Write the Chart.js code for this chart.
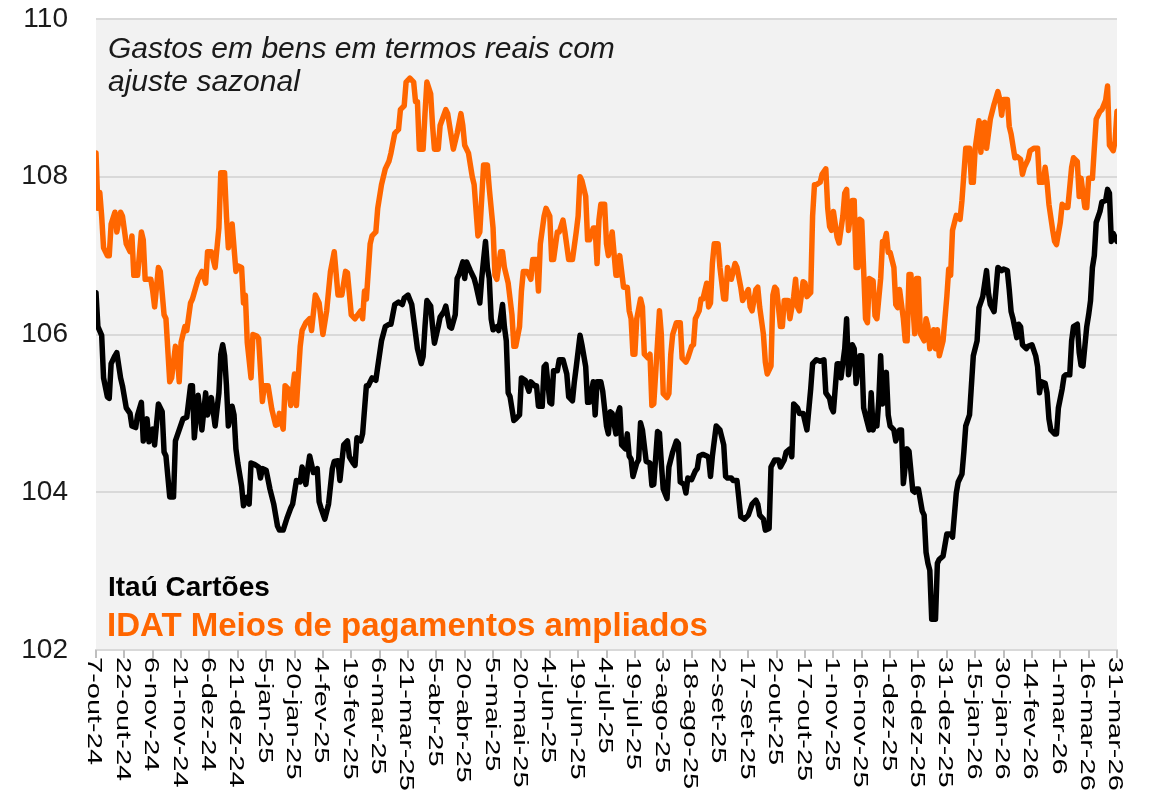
<!DOCTYPE html>
<html>
<head>
<meta charset="utf-8">
<script src="https://cdn.jsdelivr.net/npm/chart.js@4.4.1/dist/chart.umd.min.js"></script>
<style>
  html, body { margin: 0; padding: 0; background: #ffffff; }
  #wrap { width: 1153px; height: 806px; }
</style>
</head>
<body>
<div id="wrap"><canvas id="gastosChart" width="1153" height="806"></canvas></div>
<script>
  // eixo x: dias desde 7-out-24, rótulos a cada 15 dias
  const tickLabels = [
    "7-out-24", "22-out-24", "6-nov-24", "21-nov-24", "6-dez-24", "21-dez-24",
    "5-jan-25", "20-jan-25", "4-fev-25", "19-fev-25", "6-mar-25", "21-mar-25",
    "5-abr-25", "20-abr-25", "5-mai-25", "20-mai-25", "4-jun-25", "19-jun-25",
    "4-jul-25", "19-jul-25", "3-ago-25", "18-ago-25", "2-set-25", "17-set-25",
    "2-out-25", "17-out-25", "1-nov-25", "16-nov-25", "1-dez-25", "16-dez-25",
    "31-dez-25", "15-jan-26", "30-jan-26", "14-fev-26", "1-mar-26", "16-mar-26",
    "31-mar-26"
  ];
  const tickStep = 15;

  // IDAT Meios de pagamentos ampliados
  const idatDays = [
    0, 1, 2, 3, 4, 6, 7, 8, 10, 11, 13, 14, 16, 18, 19, 20, 22, 24, 25, 26,
    29, 30, 31, 33, 34, 36, 37, 39, 40, 42, 43, 44, 45, 47, 48, 50, 51, 54, 56, 58,
    59, 61, 63, 65, 66, 68, 69, 70, 72, 74, 75, 77, 78, 79, 80, 82, 83, 85, 86, 88,
    89, 91, 93, 95, 96, 97, 99, 100, 102, 103, 105, 106, 108, 109, 111, 113, 114, 116, 118, 120,
    122, 124, 126, 128, 130, 132, 133, 135, 137, 140, 141, 142, 143, 145, 146, 148, 149, 151, 153, 155,
    156, 158, 160, 161, 163, 164, 166, 168, 169, 170, 171, 173, 174, 175, 177, 178, 179, 181, 182, 185,
    186, 188, 189, 191, 193, 194, 195, 197, 199, 200, 202, 203, 205, 207, 208, 210, 211, 212, 214, 215,
    216, 218, 220, 221, 222, 224, 225, 226, 228, 230, 231, 233, 234, 235, 237, 238, 240, 241, 242, 244,
    245, 247, 248, 250, 252, 254, 255, 256, 257, 259, 260, 261, 263, 264, 265, 266, 267, 269, 270, 271,
    273, 275, 276, 277, 279, 281, 282, 283, 284, 285, 286, 288, 289, 290, 292, 293, 294, 295, 297, 298,
    299, 300, 302, 303, 304, 305, 307, 309, 310, 312, 313, 315, 316, 317, 319, 320, 321, 323, 324, 325,
    326, 327, 329, 330, 332, 333, 334, 336, 338, 339, 341, 342, 345, 346, 347, 349, 350, 351, 353, 354,
    355, 357, 358, 359, 360, 362, 363, 364, 366, 367, 369, 370, 371, 372, 374, 375, 376, 378, 379, 380,
    381, 383, 384, 386, 387, 388, 389, 390, 392, 393, 395, 396, 397, 398, 400, 401, 402, 403, 404, 405,
    407, 408, 409, 411, 412, 413, 415, 416, 417, 418, 419, 420, 422, 423, 424, 425, 427, 428, 429, 430,
    431, 433, 434, 435, 436, 438, 439, 440, 441, 443, 444, 445, 446, 448, 449, 450, 451, 452, 453, 455,
    457, 458, 460, 462, 463, 464, 465, 467, 468, 469, 470, 471, 473, 475, 477, 478, 479, 480, 482, 483,
    484, 486, 487, 489, 490, 491, 493, 494, 496, 498, 499, 501, 502, 503, 504, 506, 507, 508, 510, 511,
    513, 514, 516, 517, 519, 520, 521, 523, 524, 525, 527, 528, 529, 531, 532, 534, 535, 536, 538, 539,
    540
  ];
  const idatValues = [
    108.3, 107.6, 107.8, 107.5, 107.1, 107.0, 107.0, 107.4, 107.55, 107.3, 107.55, 107.5, 107.15, 107.05, 107.25, 106.75, 106.75, 107.3, 107.2, 106.7,
    106.7, 106.55, 106.35, 106.85, 106.8, 106.25, 106.2, 105.4, 105.45, 105.85, 105.75, 105.4, 105.9, 106.1, 106.05, 106.4, 106.45, 106.7, 106.8, 106.65,
    107.05, 107.05, 106.85, 107.35, 108.05, 108.05, 107.5, 107.1, 107.4, 106.8, 106.87, 106.85, 106.4, 106.5, 105.9, 105.45, 106.0, 105.98, 105.95, 105.15,
    105.35, 105.35, 105.05, 104.85, 104.86, 105.0, 104.8, 105.35, 105.3, 105.1, 105.5, 105.1, 105.85, 106.05, 106.15, 106.2, 106.05, 106.5, 106.4, 106.0,
    106.3, 106.8, 107.05, 106.5, 106.5, 106.8, 106.78, 106.25, 106.2, 106.3, 106.2, 106.55, 106.45, 107.15, 107.25, 107.3, 107.6, 107.9, 108.1, 108.2,
    108.3, 108.55, 108.6, 108.85, 108.9, 109.2, 109.25, 109.2, 108.95, 108.95, 108.35, 108.35, 108.8, 109.2, 109.05, 108.65, 108.35, 108.35, 108.65, 108.85,
    108.8, 108.5, 108.35, 108.55, 108.8, 108.65, 108.4, 108.3, 108.0, 107.9, 107.25, 107.3, 108.15, 108.15, 107.85, 107.35, 106.75, 106.7, 107.05, 107.05,
    106.85, 106.65, 106.25, 105.85, 105.85, 106.1, 106.55, 106.8, 106.8, 106.7, 106.95, 106.95, 106.55, 107.15, 107.5, 107.6, 107.5, 106.95, 106.95, 107.3,
    107.3, 107.45, 107.3, 106.95, 106.95, 107.3, 107.5, 108.0, 107.95, 107.75, 107.2, 107.2, 107.35, 107.35, 106.9, 107.45, 107.65, 107.65, 107.15, 107.0,
    107.3, 106.75, 106.75, 107.0, 106.6, 106.6, 106.3, 106.2, 105.75, 105.75, 106.2, 106.45, 106.35, 105.75, 105.7, 105.75, 105.1, 105.12, 105.9, 106.3,
    106.0, 105.25, 105.2, 105.25, 105.75, 106.0, 106.15, 106.15, 105.7, 105.65, 105.7, 105.85, 105.87, 106.2, 106.3, 106.45, 106.45, 106.65, 106.35, 106.4,
    106.9, 107.15, 107.15, 106.85, 106.45, 106.45, 106.85, 106.7, 106.9, 106.85, 106.6, 106.43, 106.57, 106.35, 106.3, 106.57, 106.6, 106.35, 106.0, 105.65,
    105.5, 105.6, 106.5, 106.6, 106.57, 106.1, 106.1, 106.43, 106.43, 106.2, 106.48, 106.7, 106.35, 106.3, 106.67, 106.65, 106.48, 106.53, 107.5, 107.9,
    107.9, 107.93, 108.03, 108.1, 107.6, 107.37, 107.32, 107.56, 107.23, 107.16, 107.5, 107.79, 107.84, 107.32, 107.7, 107.7, 106.85, 106.85, 107.46, 107.44,
    106.2, 106.15, 106.71, 106.68, 106.24, 106.2, 106.71, 107.18, 107.18, 107.28, 107.04, 107.04, 106.85, 106.38, 106.34, 106.57, 106.2, 105.92, 105.92, 106.76,
    106.76, 106.01, 106.71, 106.71, 106.01, 105.92, 106.2, 106.1, 105.82, 106.06, 105.82, 106.06, 105.73, 105.92, 106.2, 106.48, 106.83, 106.75, 107.32, 107.51,
    107.46, 107.7, 108.36, 108.36, 107.93, 107.93, 108.36, 108.71, 108.31, 108.67, 108.69, 108.36, 108.73, 108.92, 109.08, 108.98, 108.78, 108.98, 108.98, 108.64,
    108.54, 108.24, 108.26, 108.22, 108.03, 108.12, 108.22, 108.33, 108.36, 108.36, 107.93, 107.93, 108.12, 107.93, 107.65, 107.32, 107.18, 107.14, 107.42, 107.65,
    107.61, 107.61, 108.12, 108.24, 108.19, 107.75, 107.98, 107.61, 107.61, 107.98, 107.98, 108.36, 108.73, 108.83, 108.85, 108.97, 109.15, 108.4, 108.33, 108.45,
    108.83
  ];

  // Itaú Cartões
  const itauDays = [
    0, 1, 3, 4, 6, 7, 8, 10, 11, 13, 14, 16, 18, 19, 21, 22, 24, 25, 27, 28,
    30, 31, 33, 35, 36, 37, 39, 41, 42, 43, 46, 48, 50, 51, 52, 54, 56, 58, 59, 61,
    63, 65, 66, 67, 68, 69, 70, 72, 73, 74, 75, 77, 78, 80, 81, 82, 84, 86, 87, 88,
    90, 92, 94, 96, 97, 99, 101, 103, 104, 106, 108, 109, 111, 112, 113, 115, 117, 118, 119, 121,
    123, 125, 126, 128, 129, 131, 133, 134, 136, 137, 138, 140, 141, 143, 144, 146, 148, 149, 151, 153,
    155, 156, 158, 160, 162, 163, 165, 167, 169, 170, 172, 173, 174, 175, 177, 178, 179, 181, 182, 184,
    185, 187, 188, 190, 191, 192, 194, 195, 196, 198, 200, 201, 203, 204, 205, 206, 207, 208, 209, 210,
    212, 213, 215, 216, 217, 218, 219, 221, 222, 224, 225, 227, 229, 230, 232, 233, 234, 236, 237, 238,
    240, 241, 242, 244, 245, 247, 249, 250, 252, 253, 254, 256, 257, 259, 260, 261, 263, 264, 265, 267,
    268, 270, 271, 272, 273, 275, 276, 277, 278, 280, 281, 282, 283, 284, 286, 287, 288, 289, 291, 293,
    294, 295, 297, 298, 299, 300, 302, 303, 305, 307, 308, 309, 311, 312, 313, 315, 317, 318, 319, 321,
    323, 324, 325, 326, 328, 330, 332, 333, 334, 336, 337, 339, 340, 341, 343, 345, 347, 349, 350, 351,
    353, 354, 356, 357, 359, 361, 362, 364, 365, 367, 368, 369, 371, 372, 374, 376, 378, 379, 381, 383,
    385, 386, 388, 389, 390, 392, 393, 394, 396, 397, 398, 400, 401, 402, 404, 405, 406, 408, 409, 410,
    411, 412, 413, 414, 415, 416, 418, 419, 420, 422, 423, 425, 426, 427, 429, 430, 432, 433, 434, 435,
    437, 438, 439, 440, 441, 442, 444, 445, 446, 448, 450, 452, 453, 455, 456, 458, 459, 460, 462, 464,
    466, 467, 469, 471, 472, 473, 475, 476, 477, 479, 480, 482, 483, 484, 485, 487, 488, 489, 490, 492,
    493, 495, 497, 498, 499, 500, 502, 503, 504, 505, 507, 508, 509, 511, 512, 513, 515, 516, 517, 519,
    520, 521, 522, 524, 525, 526, 527, 528, 529, 531, 532, 534, 535, 536, 537, 538, 539, 540
  ];
  const itauValues = [
    106.53, 106.1, 105.99, 105.45, 105.21, 105.19, 105.63, 105.73, 105.77, 105.45, 105.35, 105.07, 105.0, 104.84, 104.82, 104.98, 105.14, 104.65, 104.93, 104.64,
    104.8, 104.6, 105.12, 105.02, 104.51, 104.46, 103.94, 103.94, 104.65, 104.72, 104.93, 104.95, 105.35, 105.35, 104.69, 105.23, 104.79, 105.26, 104.98, 105.2,
    104.84, 105.26, 105.75, 105.87, 105.73, 105.35, 104.84, 105.09, 104.98, 104.55, 104.37, 104.08, 103.83, 103.94, 103.85, 104.37, 104.35, 104.32, 104.18, 104.3,
    104.28, 104.04, 103.85, 103.57, 103.52, 103.52, 103.67, 103.8, 103.85, 104.15, 104.13, 104.32, 104.1, 104.3, 104.46, 104.25, 104.3, 103.88, 103.8, 103.66,
    103.85, 104.3, 104.39, 104.4, 104.15, 104.6, 104.65, 104.45, 104.37, 104.34, 104.69, 104.65, 104.74, 105.35, 105.35, 105.45, 105.42, 105.59, 105.92, 106.1,
    106.13, 106.13, 106.38, 106.41, 106.38, 106.46, 106.5, 106.38, 106.01, 105.82, 105.63, 105.72, 106.1, 106.43, 106.36, 106.1, 105.89, 106.1, 106.22, 106.29,
    106.36, 106.1, 106.08, 106.25, 106.71, 106.76, 106.92, 106.71, 106.92, 106.81, 106.71, 106.62, 106.4, 106.71, 106.95, 107.18, 106.85, 106.71, 106.2, 106.06,
    106.1, 106.05, 106.38, 106.1, 105.92, 105.26, 105.21, 104.91, 104.93, 104.98, 105.45, 105.42, 105.28, 105.4, 105.35, 105.35, 105.09, 105.09, 105.59, 105.62,
    105.14, 105.12, 105.54, 105.54, 105.68, 105.68, 105.5, 105.21, 105.16, 105.4, 105.59, 105.99, 105.87, 105.59, 105.14, 105.14, 105.4, 104.98, 105.4, 105.4,
    105.28, 104.84, 104.74, 105.02, 105.0, 104.74, 105.0, 105.07, 104.6, 104.55, 104.74, 104.46, 104.42, 104.2, 104.37, 104.41, 104.88, 104.79, 104.39, 104.37,
    104.09, 104.1, 104.77, 104.75, 104.37, 104.04, 103.92, 104.32, 104.51, 104.65, 104.62, 104.13, 104.1, 103.99, 104.18, 104.16, 104.27, 104.3, 104.46, 104.48,
    104.46, 104.44, 104.2, 104.46, 104.84, 104.79, 104.6, 104.2, 104.18, 104.18, 104.15, 104.15, 103.92, 103.69, 103.66, 103.71, 103.85, 103.9, 103.85, 103.71,
    103.66, 103.52, 103.54, 104.32, 104.41, 104.41, 104.32, 104.41, 104.51, 104.55, 104.45, 105.12, 105.07, 105.0, 105.0, 104.79, 105.31, 105.63, 105.68, 105.66,
    105.68, 105.26, 105.19, 105.07, 105.02, 105.63, 105.63, 105.45, 105.82, 106.2, 105.49, 105.87, 105.82, 105.38, 105.73, 105.73, 105.07, 104.88, 104.79, 105.26,
    104.79, 104.9, 104.84, 105.16, 105.73, 105.12, 105.52, 104.98, 104.84, 104.79, 104.65, 104.79, 104.79, 104.11, 104.55, 104.52, 104.02, 104.0, 104.04, 104.04,
    103.76, 103.71, 103.24, 103.1, 103.01, 102.39, 102.39, 103.1, 103.15, 103.19, 103.47, 103.47, 103.43, 103.99, 104.13, 104.23, 104.51, 104.84, 104.98, 105.73,
    105.92, 106.34, 106.48, 106.81, 106.53, 106.38, 106.29, 106.57, 106.85, 106.81, 106.83, 106.81, 106.57, 106.29, 106.2, 105.96, 106.13, 106.1, 105.87, 105.82,
    105.85, 105.87, 105.73, 105.59, 105.26, 105.4, 105.38, 105.26, 104.93, 104.79, 104.74, 104.74, 105.07, 105.31, 105.47, 105.49, 105.49, 105.92, 106.1, 106.13,
    105.77, 105.61, 105.6, 106.1, 106.25, 106.43, 106.85, 107.0, 107.42, 107.56, 107.68, 107.7, 107.84, 107.79, 107.18, 107.28, 107.23, 107.18
  ];

  const yMin = 102;
  const yMax = 110;
  const yStep = 2;

  const titleLines = ["Gastos em bens em termos reais com", "ajuste sazonal"];
  const itauLabel = "Itaú Cartões";
  const idatLabel = "IDAT Meios de pagamentos ampliados";

  const ORANGE = "#ff6600";
  const FONT = "'Liberation Sans', Arial, sans-serif";

  function toPoints(days, values) {
    return days.map((d, i) => ({ x: d, y: values[i] }));
  }

  // fundo cinza da área do gráfico
  const plotBackground = {
    id: "plotBackground",
    beforeDraw(chart) {
      const { ctx, chartArea: a } = chart;
      ctx.save();
      ctx.fillStyle = "#ffffff";
      ctx.fillRect(0, 0, chart.width, chart.height);
      ctx.fillStyle = "#f2f2f2";
      ctx.fillRect(a.left, a.top, a.right - a.left, a.bottom - a.top);
      ctx.restore();
    }
  };

  // rótulos do eixo x (girados para baixo), marcas, título e legenda
  const annotations = {
    id: "annotations",
    afterDraw(chart) {
      const { ctx, chartArea: a } = chart;
      const xs = chart.scales.x;
      ctx.save();

      ctx.strokeStyle = "#bfbfbf";
      ctx.lineWidth = 2;
      tickLabels.forEach((lbl, i) => {
        const px = Math.round(xs.getPixelForValue(i * tickStep));
        ctx.beginPath();
        ctx.moveTo(px, a.bottom);
        ctx.lineTo(px, a.bottom + 8);
        ctx.stroke();
      });

      ctx.fillStyle = "#000000";
      ctx.font = "20px " + FONT;
      ctx.textAlign = "left";
      ctx.textBaseline = "middle";
      tickLabels.forEach((lbl, i) => {
        const px = xs.getPixelForValue(i * tickStep);
        ctx.save();
        ctx.translate(px - 2, a.bottom + 7);
        ctx.rotate(Math.PI / 2);
        ctx.scale(1.45, 1);
        ctx.fillText(lbl, 0, 0);
        ctx.restore();
      });

      ctx.textBaseline = "alphabetic";
      ctx.fillStyle = "#1a1a1a";
      ctx.font = "italic 30px " + FONT;
      ctx.fillText(titleLines[0], 108, 58);
      ctx.fillText(titleLines[1], 108, 91);

      ctx.fillStyle = "#000000";
      ctx.font = "bold 28px " + FONT;
      ctx.fillText(itauLabel, 108, 596);

      ctx.fillStyle = ORANGE;
      ctx.font = "bold 33px " + FONT;
      ctx.fillText(idatLabel, 107, 636);

      ctx.restore();
    }
  };

  window.onload = () => {
    const ctx = document.getElementById("gastosChart").getContext("2d");
    window.gastosChart = new Chart(ctx, {
      type: "line",
      data: {
        datasets: [
          {
            label: idatLabel,
            data: toPoints(idatDays, idatValues),
            borderColor: ORANGE,
            borderWidth: 5.5,
            borderJoinStyle: "round",
            borderCapStyle: "round",
            pointRadius: 0,
            tension: 0
          },
          {
            label: itauLabel,
            data: toPoints(itauDays, itauValues),
            borderColor: "#000000",
            borderWidth: 5.5,
            borderJoinStyle: "round",
            borderCapStyle: "round",
            pointRadius: 0,
            tension: 0
          }
        ]
      },
      options: {
        responsive: false,
        animation: false,
        devicePixelRatio: 1,
        layout: { padding: { top: 19, right: 36, left: 0, bottom: 0 } },
        plugins: {
          legend: { display: false },
          tooltip: { enabled: false }
        },
        scales: {
          x: {
            type: "linear",
            min: 0,
            max: (tickLabels.length - 1) * tickStep,
            ticks: { display: false },
            grid: { display: false },
            border: { display: true, color: "#d9d9d9", width: 2 },
            afterFit: (scale) => { scale.height = 156; }
          },
          y: {
            min: yMin,
            max: yMax,
            ticks: {
              stepSize: yStep,
              padding: 28,
              color: "#1a1a1a",
              font: { family: FONT, size: 28 }
            },
            grid: { color: "#d9d9d9", lineWidth: 2, drawTicks: false },
            border: { display: false },
            afterFit: (scale) => {
              scale.width = 96;
              scale.paddingTop = 0;
              scale.paddingBottom = 0;
            }
          }
        }
      },
      plugins: [plotBackground, annotations]
    });
  };
</script>
</body>
</html>
